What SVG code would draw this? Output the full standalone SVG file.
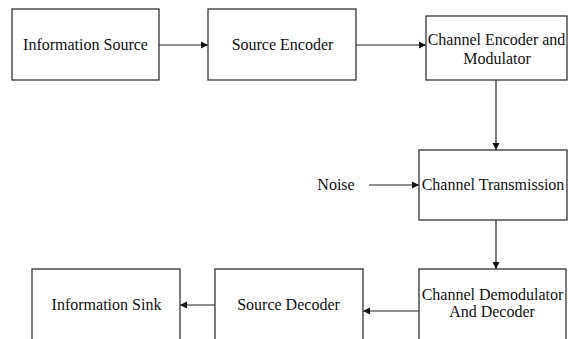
<svg xmlns="http://www.w3.org/2000/svg" width="568" height="339" viewBox="0 0 568 339">
<style>
.box{fill:#fff;stroke:#333;stroke-width:1.3}
text{font-family:'Liberation Serif','Times New Roman',serif;font-size:16px;fill:#111;text-anchor:middle}
.c{stroke:#222;stroke-width:1.2;fill:none;marker-end:url(#ah)}
</style>
<defs>
<marker id="ah" markerWidth="8" markerHeight="8" refX="7" refY="4" orient="auto" markerUnits="userSpaceOnUse">
<path d="M0,0.5 L7,4 L0,7.5 Z" fill="#111"/>
</marker>
</defs>
<rect width="568" height="339" fill="#fff"/>
<g id="connectors">
<line class="c" x1="159" y1="45" x2="208" y2="45"/>
<line class="c" x1="356" y1="45" x2="426" y2="45"/>
<line class="c" x1="496" y1="80" x2="496" y2="150"/>
<line class="c" x1="369" y1="185" x2="419" y2="185"/>
<line class="c" x1="496" y1="220" x2="496" y2="269"/>
<line class="c" x1="419" y1="311" x2="363" y2="311"/>
<line class="c" x1="215" y1="305" x2="180" y2="305"/>
</g>
<g id="info-source">
<rect class="box" x="12" y="9" width="147" height="71"/>
<text x="85.5" y="50">Information Source</text>
</g>
<g id="source-encoder">
<rect class="box" x="208" y="9" width="148" height="71"/>
<text x="282.5" y="50">Source Encoder</text>
</g>
<g id="channel-encoder">
<rect class="box" x="426" y="16" width="141" height="64"/>
<text x="496.5" y="45">Channel Encoder and</text>
<text x="497" y="64">Modulator</text>
</g>
<g id="noise">
<text x="336" y="190">Noise</text>
</g>
<g id="channel-transmission">
<rect class="box" x="419" y="150" width="148" height="70"/>
<text x="493" y="190">Channel Transmission</text>
</g>
<g id="channel-demodulator">
<rect class="box" x="419" y="269" width="147" height="80"/>
<text x="492.5" y="300">Channel Demodulator</text>
<text x="492" y="317">And Decoder</text>
</g>
<g id="source-decoder">
<rect class="box" x="215" y="269" width="148" height="80"/>
<text x="288.5" y="310">Source Decoder</text>
</g>
<g id="info-sink">
<rect class="box" x="32" y="269" width="148" height="80"/>
<text x="106.5" y="310">Information Sink</text>
</g>
</svg>
